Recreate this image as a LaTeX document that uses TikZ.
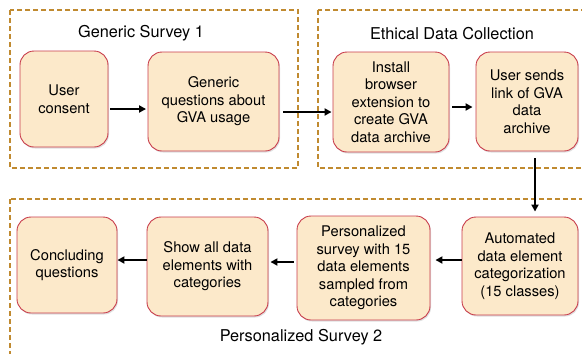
\documentclass[tikz,border=0pt]{standalone}
\usepackage{fontspec}
\setmainfont{TeX Gyre Heros}
\usetikzlibrary{arrows.meta,shadows}
\definecolor{boxfill}{RGB}{252,233,202}
\definecolor{boxline}{RGB}{200,60,75}
\definecolor{dashcol}{RGB}{192,138,48}
\tikzset{
  stepbox/.style={draw=boxline, line width=0.9pt, fill=boxfill, rounded corners=14pt,
    align=center, inner sep=2pt, font=\fontsize{14.7}{17.5}\selectfont,
    drop shadow={opacity=0.25, shadow xshift=1pt, shadow yshift=-1.5pt}},
  groupbox/.style={draw=dashcol, line width=1.4pt, dash pattern=on 5pt off 3pt},
  grouplabel/.style={font=\fontsize{16.3}{19}\selectfont, inner sep=0pt},
  arr/.style={line width=1.9pt, -{Triangle[length=7pt,width=7pt]}}
}
\begin{document}
\begin{tikzpicture}[x=1pt,y=-1pt]
\useasboundingbox (0,0) rectangle (582,354);
% group frames
\draw[groupbox] (10,10) rectangle (298,168);
\draw[groupbox] (318,10) rectangle (590,168);
\draw[groupbox] (10,199) rectangle (590,362);
\node[grouplabel] (l1) at (141,33) {Generic Survey 1};
\node[grouplabel] (l2) at (452,34) {Ethical Data Collection};
\node[grouplabel] (l3) at (301,337) {Personalized Survey 2};
% steps
\node[stepbox, minimum width=88pt, minimum height=96pt] (cons) at (64,99) {User\\consent};
\node[stepbox, minimum width=131pt, minimum height=99pt] (gen) at (213.5,101.5) {Generic\\questions about\\GVA usage};
\node[stepbox, minimum width=116pt, minimum height=100pt] (inst) at (391,102) {Install\\browser\\extension to\\create GVA\\data archive};
\node[stepbox, minimum width=102pt, minimum height=99pt] (send) at (527,101.5) {User sends\\link of GVA\\data\\archive};
\node[stepbox, minimum width=116pt, minimum height=98pt] (auto) at (520,266) {Automated\\data element\\categorization\\(15 classes)};
\node[stepbox, minimum width=133pt, minimum height=104pt] (pers) at (363.5,268) {Personalized\\survey with 15\\data elements\\sampled from\\categories};
\node[stepbox, minimum width=121pt, minimum height=99pt] (show) at (207.5,266.5) {Show all data\\elements with\\categories};
\node[stepbox, minimum width=100pt, minimum height=96pt] (conc) at (67,265) {Concluding\\questions};
% connectors
\draw[arr, shorten <=2pt, shorten >=1.5pt] ([yshift=-10pt]cons.east) -- ([yshift=-10pt]cons.east -| gen.west);
\draw[arr, shorten <=4pt, shorten >=1pt] ([yshift=-10.5pt]gen.east) -- ([yshift=-10.5pt]gen.east -| inst.west);
\draw[arr, shorten <=3pt, shorten >=3pt] ([yshift=-5pt]inst.east) -- ([yshift=-5pt]inst.east -| send.west);
\draw[arr, shorten <=7pt, shorten >=5pt] ([xshift=8pt]send.south) -- ([xshift=8pt]send.south |- auto.north);
\draw[arr, shorten <=0pt, shorten >=5pt] ([yshift=6pt]auto.west) -- ([yshift=6pt]auto.west -| pers.east);
\draw[arr, shorten <=3pt, shorten >=2pt] ([yshift=6pt]pers.west) -- ([yshift=6pt]pers.west -| show.east);
\draw[arr, shorten <=0pt, shorten >=0pt] ([yshift=6.5pt]show.west) -- ([yshift=6.5pt]show.west -| conc.east);
\end{tikzpicture}
\end{document}
